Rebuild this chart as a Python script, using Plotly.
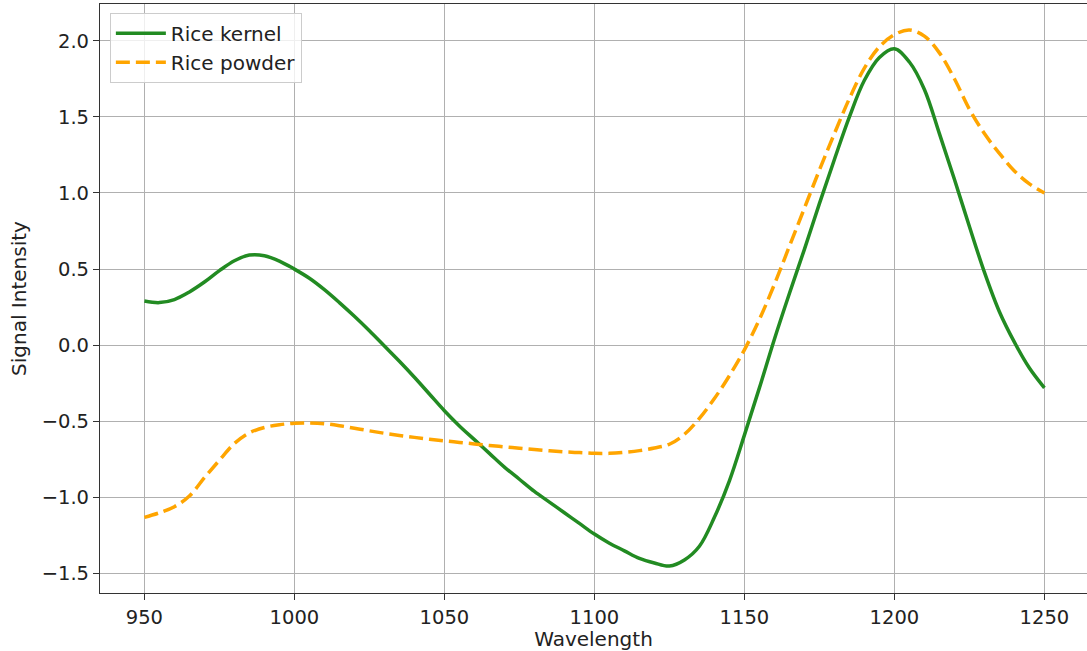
import plotly.graph_objects as go

wavelength = list(range(950, 1251, 5))

rice_kernel = [
    0.29, 0.28, 0.30, 0.35, 0.415, 0.49, 0.555, 0.592, 0.588, 0.553,
    0.50, 0.44, 0.365, 0.28, 0.19, 0.095, -0.005, -0.105, -0.21, -0.32,
    -0.43, -0.53, -0.62, -0.71, -0.80, -0.88, -0.96, -1.03, -1.10, -1.17,
    -1.24, -1.30, -1.35, -1.40, -1.43, -1.45, -1.41, -1.32, -1.13, -0.89,
    -0.59, -0.28, 0.04, 0.34, 0.63, 0.93, 1.22, 1.50, 1.74, 1.89,
    1.947, 1.86, 1.68, 1.39, 1.09, 0.78, 0.48, 0.22, 0.02, -0.15,
    -0.28,
]

rice_powder = [
    -1.13, -1.10, -1.06, -0.99, -0.87, -0.755, -0.645, -0.575, -0.54, -0.522,
    -0.512, -0.51, -0.515, -0.528, -0.545, -0.562, -0.578, -0.592, -0.605, -0.617,
    -0.628, -0.638, -0.648, -0.658, -0.667, -0.676, -0.685, -0.693, -0.70, -0.705,
    -0.71, -0.71, -0.703, -0.692, -0.675, -0.65, -0.585, -0.48, -0.35, -0.20,
    -0.03, 0.17, 0.40, 0.65, 0.90, 1.15, 1.39, 1.62, 1.82, 1.96,
    2.04, 2.07, 2.03, 1.92, 1.75, 1.55, 1.39, 1.26, 1.145, 1.06,
    1.00,
]

x_ticks = [950, 1000, 1050, 1100, 1150, 1200, 1250]
y_ticks = [-1.5, -1.0, -0.5, 0.0, 0.5, 1.0, 1.5, 2.0]

FONT = "DejaVu Sans"

fig = go.Figure()
fig.add_trace(go.Scatter(
    x=wavelength, y=rice_kernel, mode="lines", name="Rice kernel",
    line=dict(color="#228B22", width=3.5, shape="spline", smoothing=1.0),
))
fig.add_trace(go.Scatter(
    x=wavelength, y=rice_powder, mode="lines", name="Rice powder",
    line=dict(color="#FFA500", width=3.5, dash="14px,6px", shape="spline", smoothing=1.0),
))

axis_common = dict(
    showline=True, linecolor="#333333", linewidth=1.2, mirror=True,
    showgrid=True, gridcolor="#b0b0b0", gridwidth=1,
    ticks="outside", ticklen=6, tickcolor="#333333", tickwidth=1.2,
    tickfont=dict(family=FONT, size=19.5, color="#222222"),
    zeroline=False,
)

fig.update_layout(
    width=1087, height=651,
    margin=dict(l=100, r=0, t=4, b=58),
    paper_bgcolor="white", plot_bgcolor="white",
    font=dict(family=FONT, size=20, color="#222222"),
    showlegend=True,
    legend=dict(
        x=0.01, y=0.985, xanchor="left", yanchor="top",
        bgcolor="rgba(255,255,255,0.8)", bordercolor="#cccccc", borderwidth=1,
        font=dict(family=FONT, size=20, color="#222222"),
        itemwidth=50,
    ),
    xaxis=dict(
        range=[935.2, 1264.2], tickvals=x_ticks,
        title=dict(text="Wavelength", font=dict(family=FONT, size=20), standoff=2),
        **axis_common,
    ),
    yaxis=dict(
        range=[-1.627, 2.241], tickvals=y_ticks, tickformat=".1f",
        title=dict(text="Signal Intensity", font=dict(family=FONT, size=20), standoff=9),
        **axis_common,
    ),
)

fig.write_html("out.html")
